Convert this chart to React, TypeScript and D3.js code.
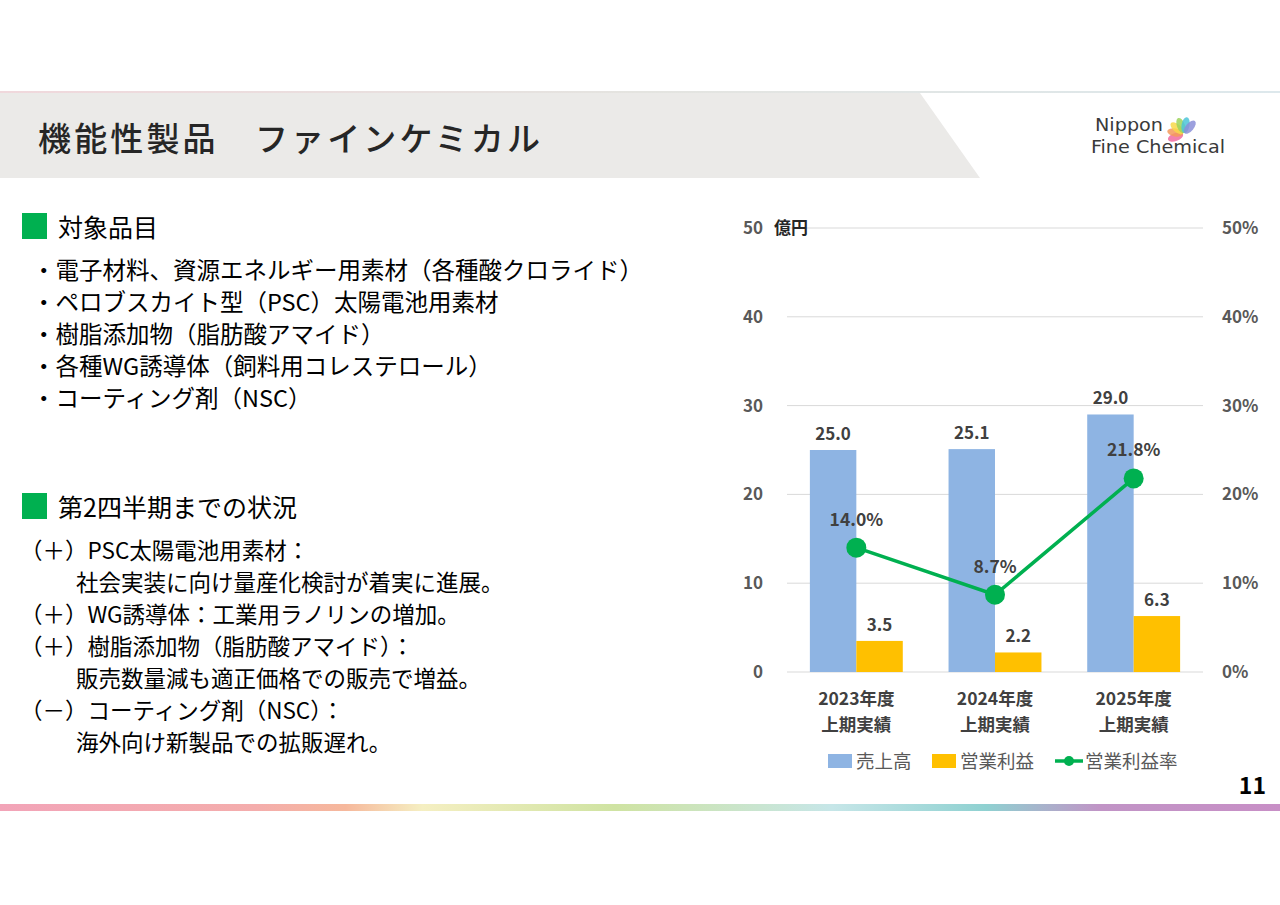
import React, { useEffect } from "react";
import * as d3 from "d3";

const categories = ["2023年度\n上期実績", "2024年度\n上期実績", "2025年度\n上期実績"];
const sales = [25.0, 25.1, 29.0];
const profit = [3.5, 2.2, 6.3];
const margin = [14.0, 8.7, 21.8];
const leftTicks = [0, 10, 20, 30, 40, 50];
const rightTicks = [0, 10, 20, 30, 40, 50];

const targetItems = [
  "・電子材料、資源エネルギー用素材（各種酸クロライド）",
  "・ペロブスカイト型（PSC）太陽電池用素材",
  "・樹脂添加物（脂肪酸アマイド）",
  "・各種WG誘導体（飼料用コレステロール）",
  "・コーティング剤（NSC）",
];

const statusItems = [
  { head: "（＋）PSC太陽電池用素材：", body: "社会実装に向け量産化検討が着実に進展。" },
  { head: "（＋）WG誘導体：工業用ラノリンの増加。", body: "" },
  { head: "（＋）樹脂添加物（脂肪酸アマイド）：", body: "販売数量減も適正価格での販売で増益。" },
  { head: "（－）コーティング剤（NSC）：", body: "海外向け新製品での拡販遅れ。" },
];

const FONT = "'Noto Sans CJK JP', 'Noto Sans', sans-serif";
const BLUE = "#8eb4e3";
const ORANGE = "#ffc000";
const GREEN = "#00b050";
const LABEL = "#404040";
const fanColors = ["#f06aa0", "#f59a5a", "#f8d84a", "#9ed35a", "#4cc4d8", "#8b8fd8"];

const App = () => {
  useEffect(() => {
    document.body.style.margin = "0";
  }, []);

  const left = 787;
  const right = 1203;
  const top = 228;
  const bottom = 672;

  const y = d3.scaleLinear().domain([0, 50]).range([bottom, top]);
  const yPct = d3.scaleLinear().domain([0, 50]).range([bottom, top]);
  const x0 = d3
    .scaleBand<string>()
    .domain(categories)
    .range([left, right])
    .paddingInner(0.33)
    .paddingOuter(0.165);
  const x1 = d3.scaleBand<string>().domain(["sales", "profit"]).range([0, x0.bandwidth()]);

  const mid = (c: string) => (x0(c) as number) + x0.bandwidth() / 2;
  const linePath = d3
    .line<number>()
    .x((_, i) => mid(categories[i]))
    .y((d) => yPct(d))(margin);

  // 箇条書きの行
  const statusLines: { text: string; x: number }[] = [];
  statusItems.forEach((s) => {
    statusLines.push({ text: s.head, x: 20 });
    if (s.body) statusLines.push({ text: s.body, x: 76 });
  });

  return (
    <svg width={1280} height={905} style={{ display: "block", fontFamily: FONT }}>
      <defs>
        <linearGradient id="band" x1="0" x2="1" y1="0" y2="0">
          <stop offset="0" stopColor="#f2a4b8" />
          <stop offset="0.2" stopColor="#f4adac" />
          <stop offset="0.27" stopColor="#f6b89c" />
          <stop offset="0.33" stopColor="#f5efc2" />
          <stop offset="0.48" stopColor="#cfe3a2" />
          <stop offset="0.65" stopColor="#c6e6e8" />
          <stop offset="0.77" stopColor="#8fd1d1" />
          <stop offset="0.86" stopColor="#c194c6" />
          <stop offset="1" stopColor="#c88fc6" />
        </linearGradient>
        <linearGradient id="topline" x1="0" x2="1" y1="0" y2="0">
          <stop offset="0" stopColor="#f0d8dc" />
          <stop offset="0.5" stopColor="#e4e4e0" />
          <stop offset="1" stopColor="#dde8ec" />
        </linearGradient>
      </defs>
      <rect width={1280} height={905} fill="#fff" />

      {/* ヘッダー */}
      <rect x={0} y={91} width={1280} height={2} fill="url(#topline)" />
      <polygon points="0,93 920,93 980,178 0,178" fill="#ebeae8" />
      <text x={38} y={151} fontSize={33} fontWeight={500} fill="#262626" textLength={502} lengthAdjust="spacing">
        機能性製品　ファインケミカル
      </text>
      <g fontFamily="'DejaVu Sans Condensed', 'Roboto', sans-serif" fill="#3a3a3a" fontSize={17} fontWeight={500}>
        <text x={1095} y={131} textLength={68} lengthAdjust="spacingAndGlyphs">Nippon</text>
        <text x={1091} y={153} textLength={134} lengthAdjust="spacingAndGlyphs">Fine Chemical</text>
      </g>
      <g transform="translate(1184,134)">
        {fanColors.map((c, i) => {
          const a = -200 + i * 30;
          const cx = Math.cos((a * Math.PI) / 180) * 9;
          const cy = Math.sin((a * Math.PI) / 180) * 9;
          return (
            <ellipse
              key={c}
              cx={cx}
              cy={cy}
              rx={8}
              ry={4}
              transform={`rotate(${a} ${cx} ${cy})`}
              fill={c}
              opacity={0.85}
            />
          );
        })}
      </g>

      {/* 左側テキスト */}
      <rect x={22} y={213} width={25} height={26} fill={GREEN} />
      <text x={58} y={237} fontSize={25} fill="#000">対象品目</text>
      {targetItems.map((t, i) => (
        <text key={t} x={32} y={279 + i * 32} fontSize={23.5} fill="#000">
          {t}
        </text>
      ))}

      <rect x={22} y={493} width={25} height={26} fill={GREEN} />
      <text x={58} y={517} fontSize={25} fill="#000">第2四半期までの状況</text>
      {statusLines.map((l, i) => (
        <text key={i} x={l.x} y={559 + i * 32} fontSize={22.5} fill="#000">
          {l.text}
        </text>
      ))}

      {/* グラフ */}
      {leftTicks.map((t) => (
        <line key={t} x1={left} x2={right} y1={y(t)} y2={y(t)} stroke="#d9d9d9" strokeWidth={1} />
      ))}
      {leftTicks.map((t) => (
        <text key={t} x={763} y={y(t) + 6} textAnchor="end" fontSize={17} fontWeight={700} fill="#595959">
          {t}
        </text>
      ))}
      <text x={774} y={234} fontSize={17} fontWeight={700} fill="#262626">億円</text>
      {rightTicks.map((t) => (
        <text key={t} x={1222} y={yPct(t) + 6} fontSize={17} fontWeight={700} fill="#595959">
          {t}%
        </text>
      ))}

      {categories.map((c, i) => (
        <g key={c}>
          <rect
            x={(x0(c) as number) + (x1("sales") as number)}
            y={y(sales[i])}
            width={x1.bandwidth()}
            height={y(0) - y(sales[i])}
            fill={BLUE}
          />
          <rect
            x={(x0(c) as number) + (x1("profit") as number)}
            y={y(profit[i])}
            width={x1.bandwidth()}
            height={y(0) - y(profit[i])}
            fill={ORANGE}
          />
          <text
            x={(x0(c) as number) + (x1("sales") as number) + x1.bandwidth() / 2}
            y={y(sales[i]) - 10}
            textAnchor="middle"
            fontSize={17}
            fontWeight={700}
            fill={LABEL}
          >
            {sales[i].toFixed(1)}
          </text>
          <text
            x={(x0(c) as number) + (x1("profit") as number) + x1.bandwidth() / 2}
            y={y(profit[i]) - 10}
            textAnchor="middle"
            fontSize={17}
            fontWeight={700}
            fill={LABEL}
          >
            {profit[i].toFixed(1)}
          </text>
          {c.split("\n").map((s, j) => (
            <text
              key={s}
              x={mid(c)}
              y={705 + j * 26}
              textAnchor="middle"
              fontSize={17.5}
              fontWeight={700}
              fill={LABEL}
            >
              {s}
            </text>
          ))}
        </g>
      ))}

      <path d={linePath || ""} fill="none" stroke={GREEN} strokeWidth={3.5} />
      {margin.map((m, i) => (
        <g key={i}>
          <circle cx={mid(categories[i])} cy={yPct(m)} r={10} fill={GREEN} />
          <text
            x={mid(categories[i])}
            y={yPct(m) - 22}
            textAnchor="middle"
            fontSize={17.5}
            fontWeight={700}
            fill={LABEL}
          >
            {m.toFixed(1)}%
          </text>
        </g>
      ))}

      {/* 凡例 */}
      <g fontSize={18.5} fill="#595959">
        <rect x={828} y={754} width={24} height={14} fill={BLUE} />
        <text x={856} y={768}>売上高</text>
        <rect x={932} y={754} width={24} height={14} fill={ORANGE} />
        <text x={960} y={768}>営業利益</text>
        <line x1={1055} x2={1083} y1={761} y2={761} stroke={GREEN} strokeWidth={3.5} />
        <circle cx={1069} cy={761} r={5} fill={GREEN} />
        <text x={1085} y={768}>営業利益率</text>
      </g>

      <text x={1266} y={794} textAnchor="end" fontSize={23} fontWeight={700} fill="#000">
        11
      </text>
      <rect x={0} y={804} width={1280} height={7} fill="url(#band)" />
    </svg>
  );
};

export default App;
